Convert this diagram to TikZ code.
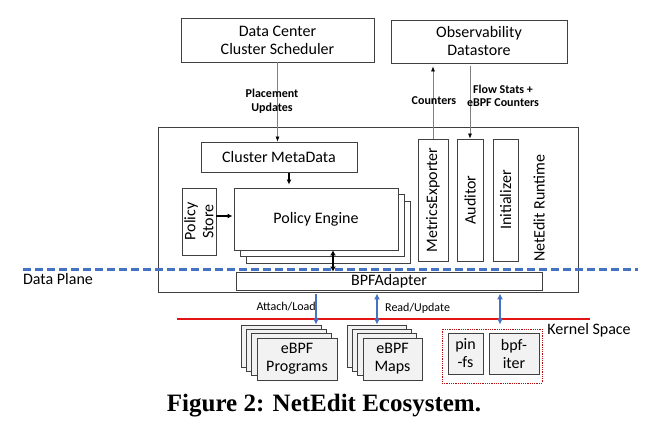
\documentclass[tikz,border=0pt]{standalone}
\usepackage{fontspec}
\setmainfont{Carlito}
\newfontfamily\capfont{Liberation Serif}
\usepackage{tikz}
\usetikzlibrary{arrows.meta}
\definecolor{dpblue}{RGB}{68,114,196}
\definecolor{ksred}{RGB}{228,20,20}
\definecolor{kgray}{RGB}{242,242,242}
\definecolor{edge}{RGB}{64,64,64}

\begin{document}
\begin{tikzpicture}[x=1pt, y=-1pt,
  every node/.style={inner sep=1pt},
  box/.style={draw=edge, line width=0.9pt, fill=white, align=center,
              font=\fontsize{16}{18}\selectfont},
  vbox/.style={box, rotate=90},
  kbox/.style={box, fill=kgray},
  lbl/.style={font=\fontsize{12}{13.5}\selectfont\bfseries, align=center},
  note/.style={font=\fontsize{12}{14}\selectfont},
  big/.style={font=\fontsize{16}{18}\selectfont},
  ctl/.style={-{Latex[length=5pt,width=4pt,black]}, gray, line width=0.6pt},
  blk/.style={-{Latex[length=5pt,width=5pt]}, black, line width=1.1pt},
  dblk/.style={{Latex[length=5pt,width=6pt]}-{Latex[length=5pt,width=6pt]}, black, line width=1.6pt},
  bl/.style={-{Latex[length=6pt,width=6pt]}, dpblue, line width=1.8pt},
  dbl/.style={{Latex[length=6pt,width=6pt]}-{Latex[length=6pt,width=6pt]}, dpblue, line width=1.8pt}
]
\useasboundingbox (0,0) rectangle (659,434);

% control plane
\node[box, minimum width=193, minimum height=44] (dcSched) at (277.5,40) {Data Center\\Cluster Scheduler};
\node[box, minimum width=176, minimum height=43] (obsStore) at (479,41.5) {Observability\\Datastore};
\node[box, minimum width=420, minimum height=165] (rt) at (368,209.5) {};

\node[box, minimum width=156, minimum height=30] (cmData) at (279,157) {Cluster MetaData};
\foreach \k in {2,1}
  \node[box, minimum width=164, minimum height=62] (pEng\k) at ({316+6.3*\k},{219+6.5*\k}) {};
\node[box, minimum width=164, minimum height=62] (pEng) at (316,219) {Policy Engine};
\node[vbox, minimum width=67, minimum height=34, inner sep=0pt] (pStore) at (199,221.5) {Policy\\Store};

\node[vbox, minimum width=122, minimum height=30] (mExp) at (433,200) {MetricsExporter};
\node[vbox, minimum width=122, minimum height=26] (audit) at (470,200) {Auditor};
\node[vbox, minimum width=122, minimum height=25] (init) at (505.5,200) {Initializer};
\node[big, rotate=90] (rtName) at (539,208) {NetEdit Runtime};

\node[box, minimum width=306, minimum height=18, inner sep=0pt] (bpfAd) at (389,281) {BPFAdapter};

% planes
\node[big] (dPlane) at (58,279) {Data Plane};
\coordinate (dpL) at (23,269.5);
\coordinate (dpR) at (638,269.5);
\draw[dpblue, line width=2.2pt, dash pattern=on 8pt off 4pt] (dpL) -- (dpR);
\coordinate (ksL) at (177,319);
\coordinate (ksR) at (590,319);
\draw[ksred, line width=1.6pt] (ksL) -- (ksR);
\node[big] (kSpace) at (589,330) {Kernel Space};

% kernel side
\foreach \k in {3,2,1}
  \node[kbox, minimum width=80, minimum height=42] (prog\k) at ({297-5.3*\k},{359-4.3*\k}) {};
\node[kbox, minimum width=80, minimum height=42, inner sep=0pt] (prog) at (297,359) {eBPF\\Programs};
\foreach \k in {3,2,1}
  \node[kbox, minimum width=59, minimum height=42] (maps\k) at ({392.5-5.3*\k},{359-4.3*\k}) {};
\node[kbox, minimum width=59, minimum height=42, inner sep=0pt] (maps) at (392.5,359) {eBPF\\Maps};
\node[draw=ksred!80!black, densely dotted, line width=0.8pt, minimum width=100, minimum height=54] (kGroup) at (492,356) {};
\node[kbox, minimum width=35, minimum height=41, inner sep=0pt] (pinFs) at (465.5,353.5) {pin\\-fs};
\node[kbox, minimum width=50, minimum height=41, inner sep=0pt] (bpfIter) at (514,353.5) {bpf-\\iter};

% connectors
\draw[ctl] (dcSched.south) -- (dcSched.south |- cmData.north);
\node[lbl] (lPlace) at (272,101) {Placement\\Updates};
\draw[ctl, shorten >=3pt] (mExp.east) -- (mExp.east |- obsStore.south);
\node[lbl] (lCount) at (434,101) {Counters};
\draw[ctl, shorten <=3pt] (audit.east |- obsStore.south) -- (audit.east);
\node[lbl] (lFlow) at (503,96) {Flow Stats +\\eBPF Counters};

\draw[blk, shorten <=1pt, shorten >=3pt] ([xshift=10pt]cmData.south) -- ([xshift=10pt]cmData.south |- pEng.north);
\draw[blk, shorten >=1pt] (pStore.south |- 0,216) -- (pEng.west |- 0,216);
\draw[dblk] (pEng.south -| 333,0) -- (bpfAd.north -| 333,0);

\draw[bl, shorten <=2pt] (rt.south -| 316,0) -- (prog3.north -| 316,0);
\node[note, anchor=east] (lAttach) at (317,307) {Attach/Load};
\draw[dbl, shorten <=1pt] (rt.south -| 377,0) -- (maps3.north -| 377,0);
\node[note, anchor=west] (lRead) at (384,308) {Read/Update};
\draw[dbl, shorten <=1pt, shorten >=4pt] (rt.south -| 500,0) -- (kGroup.north -| 500,0);

% caption
\node[font=\capfont\bfseries\fontsize{25}{28}\selectfont] (figCap) at (324,406) {Figure 2: NetEdit Ecosystem.};
\end{tikzpicture}
\end{document}
